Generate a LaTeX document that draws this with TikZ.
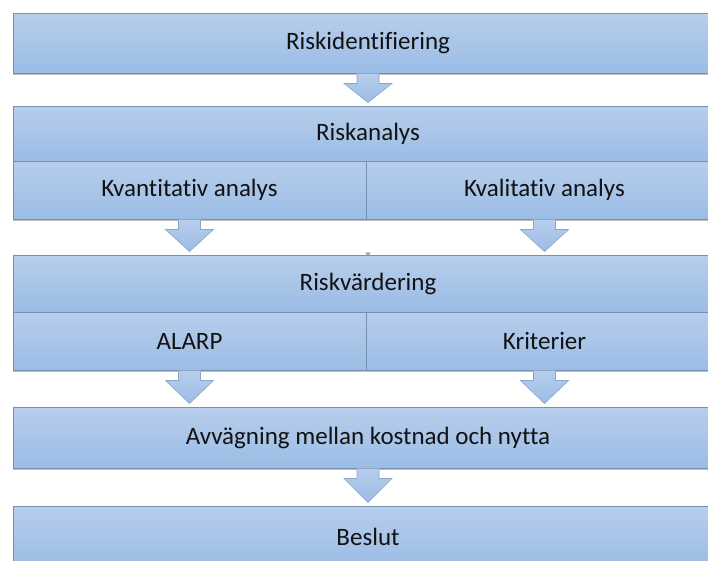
\documentclass[tikz,border=0pt]{standalone}
\usepackage{fontspec}
\setmainfont{Carlito}[Ligatures=NoCommon]
\usetikzlibrary{calc,shadows}
\definecolor{boxtop}{RGB}{183,206,236}
\definecolor{boxbot}{RGB}{155,188,229}
\definecolor{boxline}{RGB}{120,144,176}
\definecolor{arrline}{RGB}{140,165,200}
\definecolor{txt}{RGB}{18,18,18}
\newcommand\blockarr[2]{%
  \path[arr] let \p1=(#1.south), \p2=(#2.north) in
    (\x1-11pt,\y1) -- (\x1+11pt,\y1) -- (\x1+11pt,\y1-10pt) -- (\x1+24pt,\y1-10pt)
    -- (\x1,\y2+3pt) -- (\x1-24pt,\y1-10pt) -- (\x1-11pt,\y1-10pt) -- cycle;}
\begin{document}
\begin{tikzpicture}[x=1pt,y=-1pt,
  box/.style={rectangle, draw=boxline, line width=0.9pt,
    top color=boxtop, bottom color=boxbot, text=txt,
    font=\fontsize{25}{30}\selectfont, inner sep=0pt,
    drop shadow={shadow xshift=0pt, shadow yshift=-2pt, fill=black!25, opacity=1}},
  arr/.style={draw=arrline, line width=0.6pt, top color=boxtop, bottom color=boxbot}]
\useasboundingbox (0,0) rectangle (708,560);
\clip (0,0) rectangle (708,560);
\node[box, minimum width=710pt, minimum height=60pt] (r1) at (368,43) {Riskidentifiering};
\node[box, minimum width=710pt, minimum height=55pt] (r2) at (368,133.5) {Riskanalys};
\node[box, minimum width=353pt, minimum height=58pt] (r2a) at (189.5,190) {Kvantitativ analys};
\node[box, minimum width=357pt, minimum height=58pt] (r2b) at (544.5,190) {Kvalitativ analys};
\node[box, minimum width=710pt, minimum height=57pt] (r3) at (368,283.5) {Riskvärdering};
\node[box, minimum width=353pt, minimum height=58pt] (r3a) at (189.5,341) {ALARP};
\node[box, minimum width=357pt, minimum height=58pt] (r3b) at (544.5,341) {Kriterier};
\node[box, minimum width=710pt, minimum height=61pt] (r4) at (368,437.5) {Avvägning mellan kostnad och nytta};
\node[box, minimum width=710pt, minimum height=62pt] (r5) at (368,537) {Beslut};
\blockarr{r1}{r2}
\blockarr{r2a}{r3}
\blockarr{r2b}{r3}
\blockarr{r3a}{r4}
\blockarr{r3b}{r4}
\blockarr{r4}{r5}
\coordinate (m) at (r3.north);
\fill[black!40] ($(m)+(-3pt,2pt)$) -- ($(m)+(3pt,2pt)$) -- ($(m)+(0,-1pt)$) -- cycle;
\end{tikzpicture}
\end{document}
